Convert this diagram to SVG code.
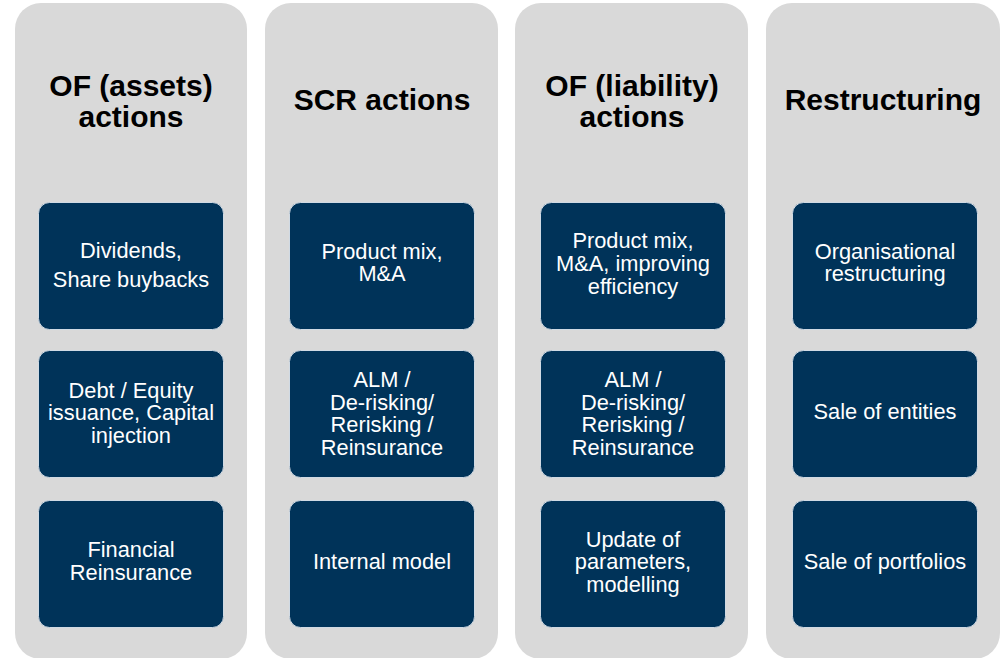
<svg xmlns="http://www.w3.org/2000/svg" width="1001" height="658" viewBox="0 0 1001 658">
  <style>
    .panel { fill: #d9d9d9; }
    .box { fill: #003359; stroke: #d0dae4; stroke-width: 1; }
    .title { font-family: "Liberation Sans", Arial, sans-serif; font-weight: bold; font-size: 30px; fill: #000; text-anchor: middle; }
    .label { font-family: "Liberation Sans", Arial, sans-serif; font-size: 21.8px; fill: #ffffff; text-anchor: middle; }
  </style>
  <rect width="1001" height="658" fill="#ffffff"/>

  <!-- Column 1: OF (assets) actions -->
  <g id="col-of-assets">
    <rect class="panel" x="15" y="3" width="232" height="656" rx="26"/>
    <text class="title" x="131" y="96">OF (assets)</text>
    <text class="title" x="131" y="127">actions</text>
  </g>
  <g id="dividends">
    <rect class="box" x="38.5" y="202.5" width="185" height="127" rx="11"/>
    <text class="label" x="131" y="258">Dividends,</text>
    <text class="label" x="131" y="287">Share buybacks</text>
  </g>
  <g id="debt-equity">
    <rect class="box" x="38.5" y="350.5" width="185" height="127" rx="11"/>
    <text class="label" x="131" y="398">Debt / Equity</text>
    <text class="label" x="131" y="420">issuance, Capital</text>
    <text class="label" x="131" y="443">injection</text>
  </g>
  <g id="financial-reinsurance">
    <rect class="box" x="38.5" y="500.5" width="185" height="127" rx="11"/>
    <text class="label" x="131" y="557">Financial</text>
    <text class="label" x="131" y="580">Reinsurance</text>
  </g>

  <!-- Column 2: SCR actions -->
  <g id="col-scr">
    <rect class="panel" x="265" y="3" width="233" height="656" rx="26"/>
    <text class="title" x="382" y="110">SCR actions</text>
  </g>
  <g id="scr-product-mix">
    <rect class="box" x="289.5" y="202.5" width="185" height="127" rx="11"/>
    <text class="label" x="382" y="259">Product mix,</text>
    <text class="label" x="382" y="281">M&amp;A</text>
  </g>
  <g id="scr-alm">
    <rect class="box" x="289.5" y="350.5" width="185" height="127" rx="11"/>
    <text class="label" x="382" y="387">ALM /</text>
    <text class="label" x="382" y="409.5">De-risking/</text>
    <text class="label" x="382" y="432">Rerisking /</text>
    <text class="label" x="382" y="454.5">Reinsurance</text>
  </g>
  <g id="scr-internal-model">
    <rect class="box" x="289.5" y="500.5" width="185" height="127" rx="11"/>
    <text class="label" x="382" y="569">Internal model</text>
  </g>

  <!-- Column 3: OF (liability) actions -->
  <g id="col-of-liability">
    <rect class="panel" x="515" y="3" width="233" height="656" rx="26"/>
    <text class="title" x="632" y="96">OF (liability)</text>
    <text class="title" x="632" y="127">actions</text>
  </g>
  <g id="liab-product-mix">
    <rect class="box" x="540.5" y="202.5" width="185" height="127" rx="11"/>
    <text class="label" x="633" y="248">Product mix,</text>
    <text class="label" x="633" y="271">M&amp;A, improving</text>
    <text class="label" x="633" y="294">efficiency</text>
  </g>
  <g id="liab-alm">
    <rect class="box" x="540.5" y="350.5" width="185" height="127" rx="11"/>
    <text class="label" x="633" y="387">ALM /</text>
    <text class="label" x="633" y="409.5">De-risking/</text>
    <text class="label" x="633" y="432">Rerisking /</text>
    <text class="label" x="633" y="454.5">Reinsurance</text>
  </g>
  <g id="liab-parameters">
    <rect class="box" x="540.5" y="500.5" width="185" height="127" rx="11"/>
    <text class="label" x="633" y="547">Update of</text>
    <text class="label" x="633" y="569">parameters,</text>
    <text class="label" x="633" y="592">modelling</text>
  </g>

  <!-- Column 4: Restructuring -->
  <g id="col-restructuring">
    <rect class="panel" x="766" y="3" width="234" height="656" rx="26"/>
    <text class="title" x="883" y="110">Restructuring</text>
  </g>
  <g id="organisational">
    <rect class="box" x="792.5" y="202.5" width="185" height="127" rx="11"/>
    <text class="label" x="885" y="259">Organisational</text>
    <text class="label" x="885" y="281">restructuring</text>
  </g>
  <g id="sale-entities">
    <rect class="box" x="792.5" y="350.5" width="185" height="127" rx="11"/>
    <text class="label" x="885" y="419">Sale of entities</text>
  </g>
  <g id="sale-portfolios">
    <rect class="box" x="792.5" y="500.5" width="185" height="127" rx="11"/>
    <text class="label" x="885" y="569">Sale of portfolios</text>
  </g>

  <!-- no connectors in this layout -->
  <g id="connectors"/>
</svg>
